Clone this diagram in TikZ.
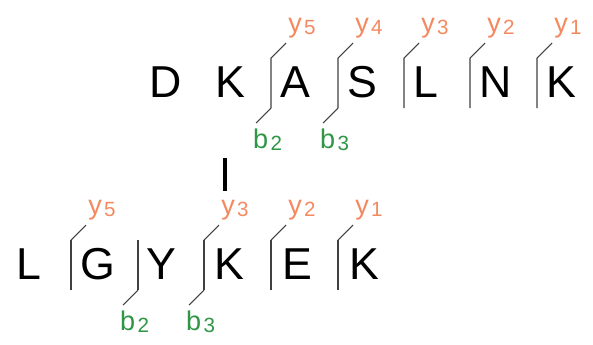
\documentclass[tikz,border=0pt]{standalone}
\usepackage{fontspec}
\setmainfont{Liberation Sans}
\usetikzlibrary{positioning}
\definecolor{ycol}{RGB}{244,137,95}
\definecolor{bcol}{RGB}{46,150,70}
\newcommand{\lab}[2]{#1\hspace{2pt}\raisebox{-2pt}{\fontsize{17.5}{17.5}\selectfont #2}}

\begin{document}
\begin{tikzpicture}[x=0.85pt,y=-0.85pt,
  letter/.style={anchor=base west,inner sep=0pt,font=\fontsize{38}{38}\selectfont},
  ylab/.style={anchor=base west,inner sep=0pt,text=ycol,font=\fontsize{23}{23}\selectfont},
  blab/.style={anchor=base west,inner sep=0pt,text=bcol,font=\fontsize{23}{23}\selectfont},
  bar/.style={draw=black!75,line width=0.9pt}]
  \useasboundingbox (0,0) rectangle (593,344);
  % upper row
  \foreach \x/\n in {271/1,338/2,404/3,470/4,537/5}{
    \coordinate (ta\n) at (\x,58);
    \coordinate (ba\n) at (\x,108);
    \draw[bar] (ba\n) -- (ta\n) -- ++(15,-15);
  }
  \draw[bar] (ba1) -- ++(-15,15);%tail
  \draw[bar] (ba2) -- ++(-15,15);%tail
  \node[letter] (uD) at (149,97) {D};
  \node[letter] (uK) at (215,97) {K};
  \foreach \c/\n in {A/1,S/2,L/3,N/4,K/5}
    \node[letter] (u\c\n) at ([xshift=7.5pt]ba\n|-uD.base) {\c};
  \foreach \i/\n in {5/1,4/2,3/3,2/4,1/5}
    \node[ylab] (uy\i) at ([xshift=14.5pt,yshift=22pt]ta\n) {\lab{y}{\i}};
  \node[blab] (ub2) at ([xshift=-15.3pt,yshift=-34pt]ba1) {\lab{b}{2}};
  \node[blab] (ub3) at ([xshift=-15.3pt,yshift=-34pt]ba2) {\lab{b}{3}};
  % link
  \coordinate (ltop) at (225,158);
  \coordinate (lbot) at (225,191);
  \draw[line width=2.8pt] (ltop) -- (lbot);
  % lower row
  \foreach \x/\n in {71/1,138/2,204/3,271/4,338/5}{
    \coordinate (tb\n) at (\x,240);
    \coordinate (bb\n) at (\x,290);
    \draw[bar] (bb\n) -- (tb\n);
  }
  \foreach \n in {1,3,4,5}
    \draw[bar] (tb\n) -- ++(15,-15);
  \draw[bar] (bb2) -- ++(-15,15);%tail
  \draw[bar] (bb3) -- ++(-15,15);%tail
  \node[letter] (lL) at (16,279) {L};
  \node[letter] (lG) at (80,279) {G};
  \node[letter] (lY) at (146,279) {Y};
  \node[letter] (lK1) at (214,279) {K};
  \node[letter] (lE) at (282,279) {E};
  \node[letter] (lK2) at (349,279) {K};
  \foreach \i/\n in {5/1,3/3,2/4,1/5}
    \node[ylab] (ly\i) at ([xshift=14.5pt,yshift=22pt]tb\n) {\lab{y}{\i}};
  \node[blab] (lb2) at ([xshift=-15.3pt,yshift=-34pt]bb2) {\lab{b}{2}};
  \node[blab] (lb3) at ([xshift=-15.3pt,yshift=-34pt]bb3) {\lab{b}{3}};
\end{tikzpicture}
\end{document}
